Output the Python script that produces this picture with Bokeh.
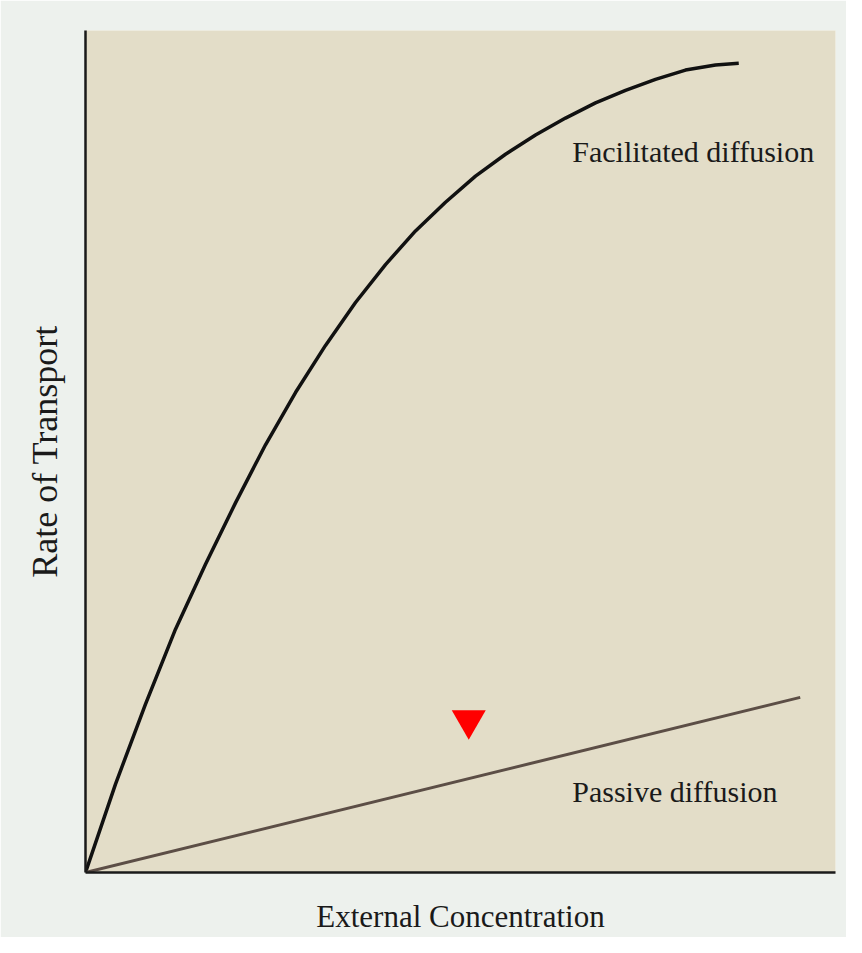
from bokeh.plotting import figure
from bokeh.models import Label, Range1d
from bokeh.embed import file_html
from bokeh.resources import INLINE

# Facilitated diffusion curve (arbitrary units 0-100)
fac_x = [0, 4.0, 8.0, 12.0, 16.0, 20.0, 24.0, 28.0, 32.0, 36.0, 40.0, 44.0,
         48.0, 52.0, 56.0, 60.0, 64.0, 68.0, 72.0, 76.0, 80.0, 84.0, 87.1]
fac_y = [0, 10.5, 20.0, 28.9, 36.6, 43.9, 50.8, 57.0, 62.6, 67.7, 72.2, 76.2,
         79.6, 82.7, 85.3, 87.6, 89.6, 91.4, 92.9, 94.2, 95.3, 95.9, 96.1]

# Passive diffusion line
pas_x = [0, 95.3]
pas_y = [0, 20.8]

# Marker
mark_x = [51.1]
mark_y = [18.1]

labels = ["Facilitated diffusion", "Passive diffusion"]
label_x = [64.9, 64.9]
label_y = [85.6, 9.6]

FONT = "Liberation Serif"

p = figure(width=846, height=937, output_backend="svg", toolbar_location=None,
           x_range=Range1d(0, 100), y_range=Range1d(0, 100),
           min_border_left=85, min_border_top=30, min_border_right=11, min_border_bottom=65)

p.background_fill_color = "#e3ddc8"
p.border_fill_color = "#edf1ed"
p.outline_line_color = None
p.grid.visible = False

for ax in (p.xaxis, p.yaxis):
    ax.major_tick_line_color = None
    ax.minor_tick_line_color = None
    ax.major_label_text_font_size = "0px"
    ax.major_label_text_color = None
    ax.axis_line_color = "#1a1a1a"
    ax.axis_line_width = 2.5
    ax.axis_label_text_font = FONT
    ax.axis_label_text_font_style = "normal"
    ax.axis_label_text_color = "#1a1a1a"

p.xaxis.axis_label = "External Concentration"
p.yaxis.axis_label = "Rate of Transport"
p.xaxis.axis_label_text_font_size = "31px"
p.yaxis.axis_label_text_font_size = "36px"
p.xaxis.axis_label_standoff = 20
p.yaxis.axis_label_standoff = 15

p.line(fac_x, fac_y, line_color="#111111", line_width=3.5, line_join="round")
p.line(pas_x, pas_y, line_color="#5c4e46", line_width=3)
p.scatter(mark_x, mark_y, marker="inverted_triangle", size=34, fill_color="#ff0000", line_color=None)

for t, x, y in zip(labels, label_x, label_y):
    p.add_layout(Label(x=x, y=y, text=t, text_font=FONT, text_font_size="30px",
                       text_color="#1a1a1a", text_baseline="alphabetic", text_align="left"))

open("out.html", "w").write(file_html(p, INLINE))
